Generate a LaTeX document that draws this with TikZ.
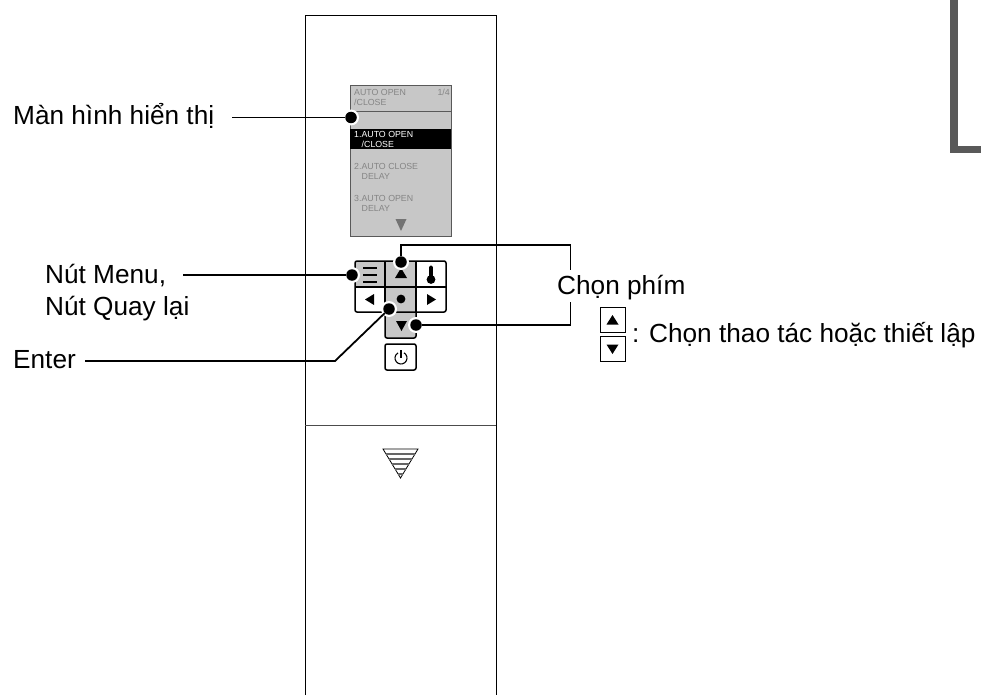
\documentclass[tikz,border=0pt]{standalone}
\usepackage{fontspec}
\setmainfont{Liberation Sans}
\definecolor{lcdgray}{gray}{0.78}
\definecolor{lcdink}{gray}{0.52}
\definecolor{lcdrim}{gray}{0.35}
\tikzset{
  lbl/.style={inner sep=0pt,font=\fontsize{26.2}{30}\selectfont},
  lcdtxt/.style={inner sep=0pt,font=\fontsize{8.8}{10}\selectfont,text=lcdink,align=left},
  lcdon/.style={inner sep=0pt,font=\fontsize{8.8}{10}\selectfont,text=white,align=left},
  halo/.style={circle,fill=white,minimum size=16pt,inner sep=0pt},
  pin/.style={circle,fill=black,minimum size=11.5pt,inner sep=0pt},
  lead/.style={line width=1.8pt},
  keyedge/.style={draw=black,line width=1.5pt,rounded corners=2pt},
  legkey/.style={draw,line width=1pt,minimum width=25pt,minimum height=25pt,inner sep=0pt},
}
\begin{document}
\begin{tikzpicture}[x=1pt,y=-1pt]
  \useasboundingbox (0,0) rectangle (981,695);
  % Remote body
  \draw[line width=0.8pt] (305,695) -- (305,15) -- (496,15) -- (496,695);
  \draw[line width=0.7pt,black!70] (305,425) -- (496,425);
  % Page tab at the right edge
  \draw[line width=7.5pt,black!65] (954,0) -- (954,149.5) -- (981,149.5);
  % Screen
  \draw[fill=lcdgray,draw=lcdrim,line width=0.9pt] (350,85) rectangle (451,236);
  \draw[lcdrim,line width=0.7pt] (350,111) -- (451,111);
  \fill[black] (350,129) rectangle (451,149);
  \node[lcdtxt,anchor=north west] (scrhead) at (354,88.7) {AUTO OPEN\\/CLOSE};
  \node[lcdtxt,anchor=north east] (scrpage) at (450,88.7) {1/4};
  \node[lcdon,anchor=north west] (scrone) at (354,131) {1.AUTO OPEN\\\hspace{7.5pt}/CLOSE};
  \node[lcdtxt,anchor=north west] (scrtwo) at (354,162.7) {2.AUTO CLOSE\\\hspace{7.5pt}DELAY};
  \node[lcdtxt,anchor=north west] (scrthree) at (354,194.7) {3.AUTO OPEN\\\hspace{7.5pt}DELAY};
  \fill[black!55] (395.5,219) -- (406.5,219) -- (401,231) -- cycle;
  % Keys
  \fill[lcdgray] (355,261) rectangle (416,287);
  \fill[lcdgray] (385,287) rectangle (416,338);
  \draw[keyedge] (355,261) rectangle (446,312);
  \draw[keyedge] (385,312) -- (385,338) -- (416,338) -- (416,312);
  \draw[line width=1.5pt] (355,287) -- (446,287) (385,261) -- (385,312) (416,261) -- (416,312);
  \draw[keyedge] (385,344) rectangle (416,370);
  % Key glyphs
  \foreach \ya in {268,275,282} \draw[line width=2.8pt] (363,\ya) -- (377,\ya);
  \fill (395,278) -- (407,278) -- (401,268) -- cycle;
  \fill (396,321) -- (407,321) -- (401.5,331) -- cycle;
  \fill (365,299.5) -- (374,294) -- (374,305) -- cycle;
  \fill (436,299.5) -- (427,294) -- (427,305) -- cycle;
  \fill (401,299) circle (4.4);
  \fill[rounded corners=1.5pt] (429.2,265.5) rectangle (432.8,280);
  \fill (431,279.5) circle (4.4);
  \draw[line width=1.1pt] (404,352.8) arc (-60:240:6);
  \draw[line width=1.1pt] (401,350) -- (401,358);
  % Down-pointing mark
  \draw[line width=0.8pt] (383,449) -- (418,449) -- (400.5,478) -- cycle;
  \foreach \yb/\xa/\xb in {454/386/415,459/389/412,464/392/409,469/395/406,474/398/403}
    \draw[line width=1.4pt,black!60] (\xa,\yb) -- (\xb,\yb);
  % Labels
  \node[lbl,anchor=base west] (lblscreen) at (13,125) {Màn hình hiển thị};
  \node[lbl,anchor=base west] (lblmenu) at (45,283) {Nút Menu,};
  \node[lbl,anchor=base west] (lblback) at (45,315) {Nút Quay lại};
  \node[lbl,anchor=base west] (lblenter) at (13,368) {Enter};
  \node[lbl,anchor=base west] (lblselect) at (557,294) {Chọn phím};
  \node[lbl,anchor=base west] (lbluse) at (632,342) {: Chọn thao tác hoặc thiết lập};
  % Small key legend
  \node[legkey] (legup) at (612.5,319.5) {};
  \node[legkey] (legdown) at (612.5,349) {};
  \fill (606.5,324.5) -- (618.5,324.5) -- (612.5,315) -- cycle;
  \fill (606.5,344.5) -- (618.5,344.5) -- (612.5,354) -- cycle;
  % Pins and leaders
  \foreach \pname/\px/\py in {screen/351/117.5,menu/352/275,up/401/262,enter/389/309,down/416/325} {
    \node[halo] (halo\pname) at (\px,\py) {};
    \node[pin] (pin\pname) at (\px,\py) {};
  }
  \coordinate (startscreen) at (232,117.5);
  \coordinate (startmenu) at (183,275);
  \coordinate (startenter) at (85,361);
  \coordinate (kneeenter) at (335,361);
  \coordinate (cornerup) at (570.5,245);
  \coordinate (endup) at (570.5,270);
  \coordinate (enddown) at (570.5,302);
  \draw[lead] (startscreen) -- (pinscreen);
  \draw[lead] (startmenu) -- (pinmenu);
  \draw[lead] (startenter) -- (kneeenter) -- (pinenter);
  \draw[lead] (pinup) |- (cornerup) -- (endup);
  \draw[lead] (pindown) -| (enddown);
\end{tikzpicture}
\end{document}
